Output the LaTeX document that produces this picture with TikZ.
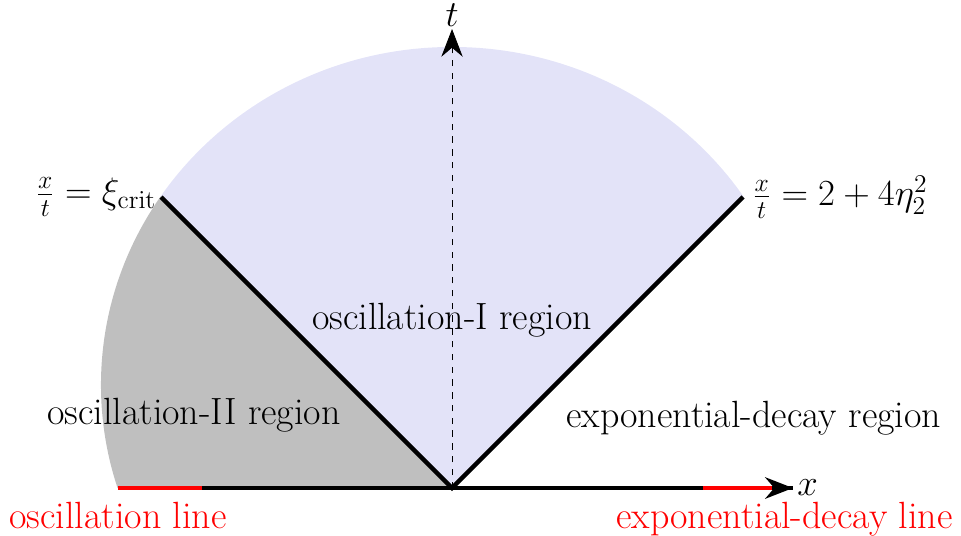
\documentclass[tikz,border=0pt]{standalone}
\usetikzlibrary{arrows.meta}

\definecolor{regionI}{RGB}{227,227,248}
\definecolor{regionII}{RGB}{191,191,191}

\begin{document}
\begin{tikzpicture}[x=1.6cm, y=1.6cm, >={Stealth[length=13pt,width=10pt]},
  txt/.style={font=\fontsize{17.8}{21}\selectfont},
  bound/.style={line width=2.1pt},
  redseg/.style={red, line width=2.1pt},
  redlab/.style={txt, red, below, inner sep=0pt, yshift=-6.5pt}]
  \useasboundingbox (-4.66,-0.485) rectangle (5.247,5.031);

  % Points
  \coordinate (O) at (0,0);
  \coordinate (A) at (-3,3);
  \coordinate (B) at (3,3);
  \coordinate (xl) at (-3.443,0);
  \coordinate (xr) at (3.515,0);
  \coordinate (xa) at (3.3,0);
  \coordinate (tt) at (0,4.732);

  % Regions
  \begin{scope}
    \clip (0,1.062) ellipse [x radius=3.619, y radius=3.485];
    \fill[regionI] (O) -- (-5,5) -- (5,5) -- cycle;
    \fill[regionII] (O) -- (-5,5) -- (-5,0) -- cycle;
  \end{scope}

  % Axes
  \draw[->, dashed, thin] (O) -- (tt) node[above, txt, inner sep=1pt] {$t$};
  \draw[bound] (xl) -- (xr);
  \draw[redseg] (xl) -- (-2.577,0);
  \draw[redseg] (2.588,0) -- (xa);
  \draw[bound, ->] (xa) -- (xr) node[right, txt, inner sep=1pt] {$x$};

  % Boundaries
  \draw[bound] (A) -- (O) -- (B);
  \node[txt, left, inner sep=2pt] (la) at (A) {$\frac{x}{t}=\xi_{\mathrm{crit}}$};
  \node[txt, right, inner sep=4pt] (lb) at (B) {$\frac{x}{t}=2+4\eta_2^2$};

  % Region labels
  \node[txt] (r1) at (0,1.73) {oscillation-I region};
  \node[txt] (r2) at (-2.66,0.75) {oscillation-II region};
  \node[txt] (r3) at (3.11,0.72) {exponential-decay region};
  \node[redlab] (l1) at (xl) {oscillation line};
  \node[redlab, xshift=-4pt] (l2) at (xr) {exponential-decay line};
\end{tikzpicture}
\end{document}
